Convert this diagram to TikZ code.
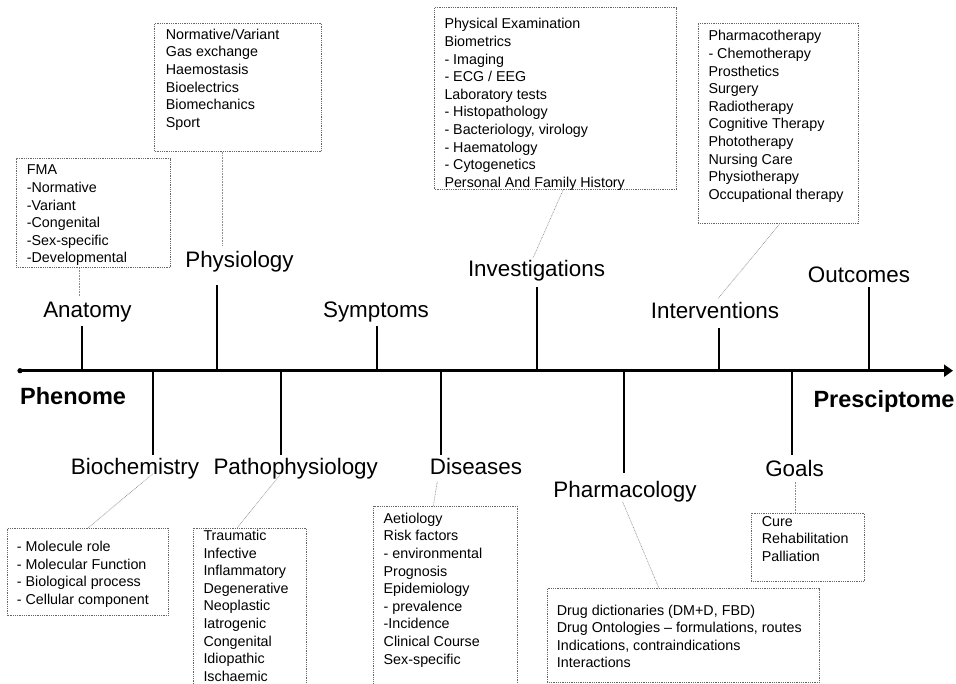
\documentclass[tikz,border=0pt]{standalone}
\usepackage{fontspec}
\setmainfont{Liberation Sans}
\usetikzlibrary{arrows.meta}
\newcommand\mylines[1]{\begin{tabular}[t]{@{}l@{}}#1\end{tabular}}
\begin{document}
\begin{tikzpicture}[x=1pt,y=-1pt,
  lbl/.style={inner sep=0pt, anchor=base, font=\fontsize{22.4}{26}\selectfont},
  ttl/.style={inner sep=0pt, anchor=base west, font=\fontsize{23.5}{27}\selectfont\bfseries},
  bx/.style={draw=black!60, line width=0.9pt, dash pattern=on 0.9pt off 0.9pt, inner sep=0pt, anchor=north west},
  btxt/.style={inner sep=0pt, anchor=base west, font=\fontsize{14.3}{17.6}\selectfont},
  tickline/.style={line width=2.2pt},
  axisline/.style={line width=3pt},
  conn/.style={draw=black!45, line width=0.6pt, dash pattern=on 0.8pt off 0.8pt}]
\useasboundingbox[fill=white] (0,0) rectangle (956,684);

% axis
\coordinate (o) at (20,370.7);
\coordinate (e) at (953,370.7);
\draw[axisline, -{Triangle[length=9pt,width=12pt]}] (o) -- (e);
\fill (o) circle (2.6pt);
\node[ttl] (phen) at (20,405) {Phenome};
\node[ttl] (pres) at (813.3,408) {Presciptome};

% ticks above
\draw[tickline] (81.7,370.7) -- (81.7,325.7);
\draw[tickline] (217.3,370.7) -- (217.3,285);
\draw[tickline] (377,370.7) -- (377,326);
\draw[tickline] (536.7,370.7) -- (536.7,286.7);
\draw[tickline] (719.3,370.7) -- (719.3,327.7);
\draw[tickline] (869,370.7) -- (869,287);
% ticks below
\draw[tickline] (153.3,370.7) -- (153.3,455);
\draw[tickline] (280.7,370.7) -- (280.7,455);
\draw[tickline] (440.7,370.7) -- (440.7,455);
\draw[tickline] (624.3,370.7) -- (624.3,473);
\draw[tickline] (791.7,370.7) -- (791.7,455);

% labels
\node[lbl] (ana) at (87.5,318) {Anatomy};
\node[lbl] (phy) at (239.5,267.7) {Physiology};
\node[lbl] (sym) at (376,317.7) {Symptoms};
\node[lbl] (inv) at (536.5,276.5) {Investigations};
\node[lbl] (itv) at (715,318.5) {Interventions};
\node[lbl] (out) at (859,282.5) {Outcomes};
\node[lbl] (bio) at (135,474) {Biochemistry};
\node[lbl] (pat) at (295.7,474) {Pathophysiology};
\node[lbl] (dis) at (476,475) {Diseases};
\node[lbl] (pha) at (625,497) {Pharmacology};
\node[lbl] (goa) at (794.5,476) {Goals};

% boxes
\node[bx, minimum width=154.3pt, minimum height=109pt] (fmab) at (15.7,158.3) {};
\node[btxt] (fmat) at (26.7,175) {\mylines{FMA\\-Normative\\-Variant\\-Congenital\\-Sex-specific\\-Developmental}};

\node[bx, minimum width=166.7pt, minimum height=128.3pt] (phyb) at (154.3,22.7) {};
\node[btxt] (phyt) at (165.7,39.3) {\mylines{Normative/Variant\\Gas exchange\\Haemostasis\\Bioelectrics\\Biomechanics\\Sport}};

\node[bx, minimum width=241.7pt, minimum height=182pt] (invb) at (434.3,7.3) {};
\node[btxt] (invt) at (444.3,29) {\mylines{Physical Examination\\Biometrics\\- Imaging\\- ECG / EEG\\Laboratory tests\\- Histopathology\\- Bacteriology, virology\\- Haematology\\- Cytogenetics\\Personal And Family History}};

\node[bx, minimum width=160.6pt, minimum height=200pt] (itvb) at (697.7,22.7) {};
\node[btxt] (itvt) at (708.3,41) {\mylines{Pharmacotherapy\\- Chemotherapy\\Prosthetics\\Surgery\\Radiotherapy\\Cognitive Therapy\\Phototherapy\\Nursing Care\\Physiotherapy\\Occupational therapy}};

\node[bx, minimum width=160.4pt, minimum height=87.3pt] (biob) at (7.3,527.7) {};
\node[btxt] (biot) at (16.7,551.7) {\mylines{- Molecule role\\- Molecular Function\\- Biological process\\- Cellular component}};

\node[bx, minimum width=113.3pt, minimum height=180pt] (patb) at (192.7,527.7) {};
\node[btxt] (patt) at (203.3,540.5) {\mylines{Traumatic\\Infective\\Inflammatory\\Degenerative\\Neoplastic\\Iatrogenic\\Congenital\\Idiopathic\\Ischaemic}};

\node[bx, minimum width=144pt, minimum height=200pt] (disb) at (373.3,506) {};
\node[btxt] (dist) at (383.5,523.3) {\mylines{Aetiology\\Risk factors\\- environmental\\Prognosis\\Epidemiology\\- prevalence\\-Incidence\\Clinical Course\\Sex-specific}};

\node[bx, minimum width=272.6pt, minimum height=93.4pt] (drgb) at (546.7,588.3) {};
\node[btxt] (drgt) at (556.7,615) {\mylines{Drug dictionaries (DM+D, FBD)\\Drug Ontologies -- formulations, routes\\Indications, contraindications\\Interactions}};

\node[bx, minimum width=113.3pt, minimum height=68.3pt] (goab) at (750.7,512.7) {};
\node[btxt] (goat) at (761.7,526) {\mylines{Cure\\Rehabilitation\\Palliation}};

% connector label-side ends
\coordinate (c1) at (79.3,296.7);
\coordinate (c2) at (222.7,245);
\coordinate (c3) at (533,258);
\coordinate (c4) at (718.3,298.3);
\coordinate (c5) at (153.3,473.3);
\coordinate (c6) at (280,475);
\coordinate (c7) at (437.3,481.7);
\coordinate (c8) at (622.7,502);
\coordinate (c9) at (795.7,481.7);

\draw[conn] ([xshift=63.6pt]fmab.south west) -- (c1);
\draw[conn] ([xshift=68.4pt]phyb.south west) -- (c2);
\draw[conn] ([xshift=128.7pt]invb.south west) -- (c3);
\draw[conn] ([xshift=82.3pt]itvb.south west) -- (c4);
\draw[conn] ([xshift=81pt]biob.north west) -- (c5);
\draw[conn] ([xshift=44.6pt]patb.north west) -- (c6);
\draw[conn] ([xshift=60pt]disb.north west) -- (c7);
\draw[conn] ([xshift=112.3pt]drgb.north west) -- (c8);
\draw[conn] ([xshift=45pt]goab.north west) -- (c9);
\end{tikzpicture}
\end{document}
